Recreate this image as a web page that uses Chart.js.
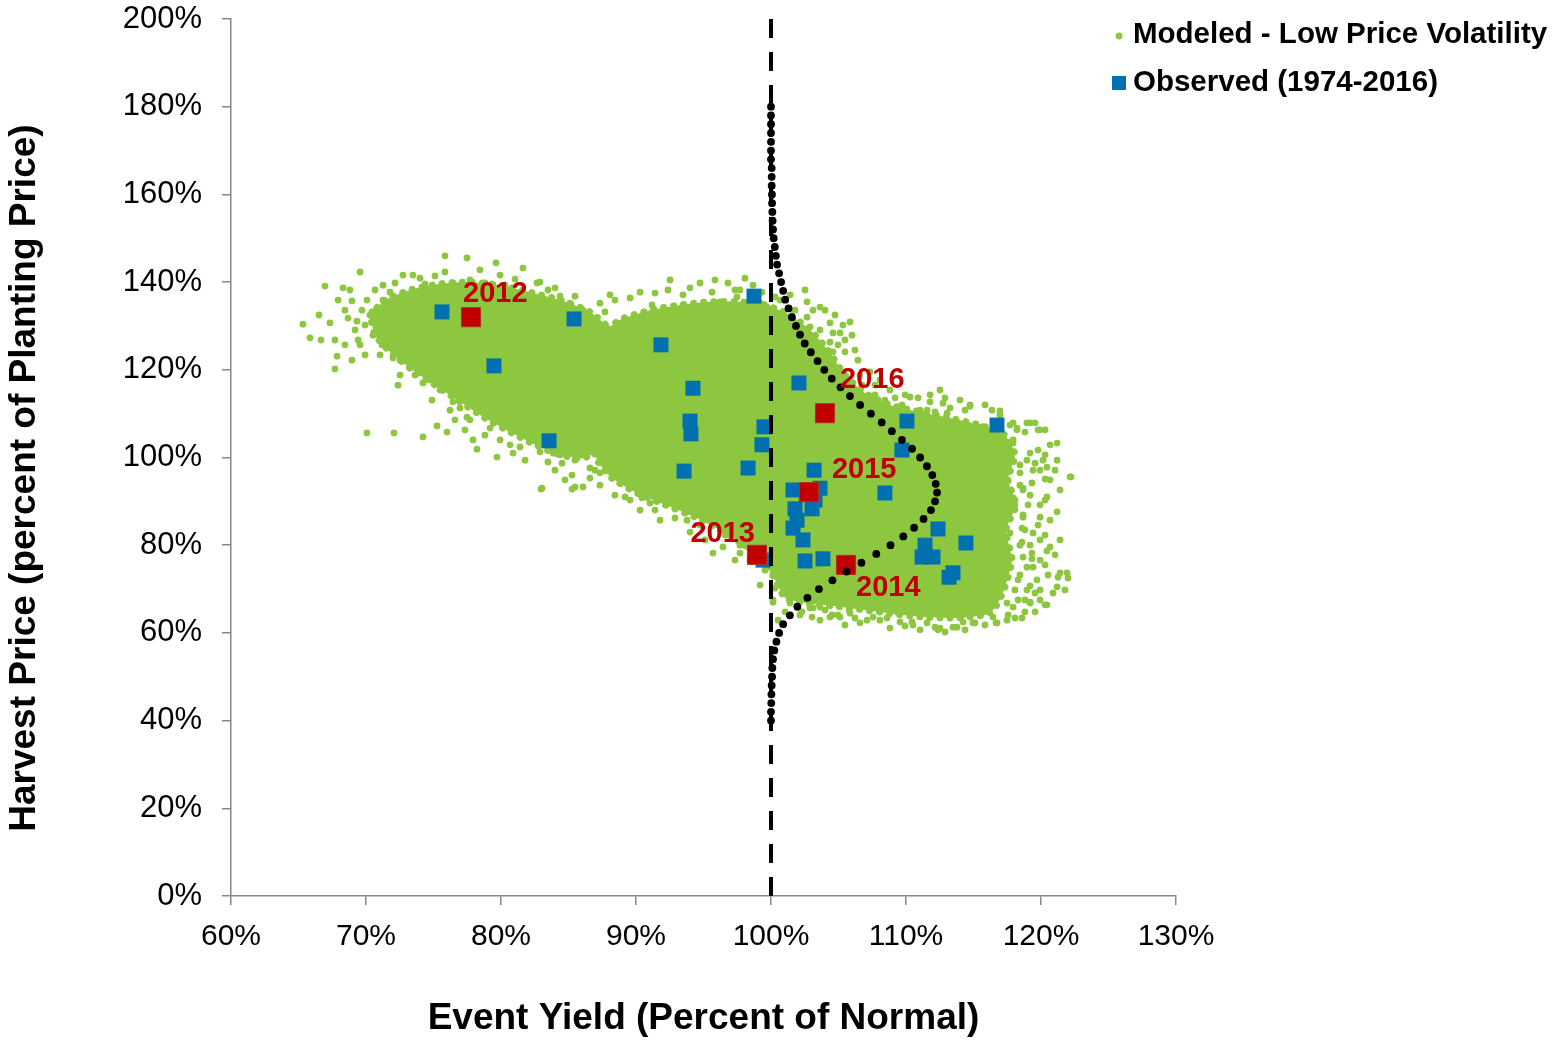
<!DOCTYPE html>
<html>
<head>
<meta charset="utf-8">
<script src="https://cdn.jsdelivr.net/npm/chart.js@4.4.1/dist/chart.umd.min.js"></script>
<style>
html,body{margin:0;padding:0;background:#ffffff;}
#wrap{width:1560px;height:1041px;position:relative;}
</style>
</head>
<body>
<div id="wrap"><canvas id="c" width="1560" height="1041"></canvas></div>
<script>
// ---------------- DATA ----------------
const xAxisRange = [60, 130];   // Event Yield, percent of normal
const yAxisRange = [0, 200];    // Harvest Price, percent of planting price
const xTickStep = 10;
const yTickStep = 20;

const seriesNames = ['Modeled - Low Price Volatility', 'Observed (1974-2016)'];

// dense core of the modeled cloud (outline of the solid area), left lobe
const modeledCoreLeft = [
  [70.30,132.5],[71.41,135.9],[73.26,138.2],[75.48,139.6],[77.70,140.0],[79.93,139.3],[82.15,137.7],
  [84.37,135.9],[86.59,133.2],[88.07,129.1],[88.44,122.2],[88.07,113.1],[87.33,104.0],[86.22,99.9],
  [84.37,100.6],[82.52,102.9],[80.67,105.8],[78.81,109.0],[76.96,112.7],[75.11,116.5],[73.26,120.4],
  [71.78,124.1],[70.67,127.9],[70.30,132.5]
];
// dense core of the modeled cloud, middle and right lobes
const modeledCoreMain = [
  [87.33,127.9],[88.81,131.4],[91.04,133.6],[93.26,134.8],[95.48,135.5],[97.70,135.5],[99.56,134.8],
  [101.41,132.5],[102.89,129.1],[104.22,124.5],[105.48,118.8],[106.96,114.7],[108.81,112.0],[111.04,110.4],
  [113.26,109.0],[115.48,107.4],[117.33,105.1],[118.07,100.6],[117.56,94.9],[118.15,89.2],[117.41,83.5],
  [117.85,76.6],[117.26,69.8],[116.59,65.7],[115.85,64.1],[113.63,63.4],[111.41,63.6],[109.19,64.3],
  [106.96,65.2],[104.74,66.1],[102.52,66.8],[101.04,68.0],[100.30,72.1],[99.33,77.3],[98.07,80.0],
  [96.22,83.5],[94.37,86.4],[92.15,89.2],[89.93,92.1],[88.22,95.3],[87.19,99.0],[86.59,104.0],
  [86.44,113.1],[86.74,122.2],[87.33,127.9]
];
// individual modeled outcomes around the dense core
const modeledPoints = [
  [75.85,146.0],[77.48,145.5],[79.63,144.4],[81.63,143.2],[82.67,139.8],[69.56,142.3],[66.96,139.1],
  [68.30,138.7],[68.96,135.7],[70.07,135.9],[71.26,139.3],[72.74,141.6],[73.48,141.6],[75.11,141.4],
  [76.44,139.8],[71.78,137.7],[74.37,139.6],[77.70,140.5],[78.81,139.8],[80.30,139.3],[81.04,140.7],
  [83.48,138.2],[84.37,136.8],[85.11,135.2],[86.07,133.6],[86.59,131.8],[65.33,130.4],[66.52,132.5],
  [67.33,130.7],[65.85,127.3],[66.67,126.8],[67.70,126.8],[67.85,123.1],[67.70,120.2],[69.33,131.1],
  [69.41,126.8],[69.93,123.4],[71.04,123.4],[72.0,122.7],[70.44,133.2],[71.04,130.7],[70.52,127.9],
  [71.56,128.4],[68.44,133.6],[71.78,125.7],[72.15,133.6],[71.26,135.9],[73.26,120.4],[74.0,119.3],
  [74.89,113.1],[74.22,117.0],[76.44,112.7],[72.07,105.6],[74.22,104.7],[75.26,107.2],[76.0,105.8],
  [77.48,109.2],[77.93,104.0],[78.22,101.9],[79.70,100.1],[80.89,101.0],[82.15,104.0],[84.89,103.3],
  [86.37,102.4],[75.48,115.4],[76.59,114.9],[78.44,112.0],[79.56,110.4],[80.30,108.6],[81.41,106.7],
  [82.89,105.4],[84.0,102.9],[76.96,111.3],[74.74,117.7],[75.85,116.5],[72.52,118.8],[84.37,100.6],
  [85.48,99.4],[86.59,101.3],[83.48,99.0],[85.26,96.0],[82.96,92.8],[85.48,93.3],[70.07,105.6],
  [68.81,138.2],[67.93,135.9],[68.67,131.8],[69.70,133.6],[69.19,129.1],[68.44,125.7],[69.56,125.7],
  [68.96,122.2],[70.67,138.2],[72.15,139.8],[74.0,140.9],[75.85,142.3],[78.44,142.8],[79.93,141.6],
  [82.89,140.0],[84.0,138.7],[85.48,136.8],[87.33,135.2],[69.93,130.2],[71.19,125.7],[72.52,122.2],
  [73.63,118.8],[72.37,116.5],[76.22,110.8],[77.70,108.6],[79.19,106.7],[77.33,106.3],[79.93,104.0],
  [81.41,102.4],[82.89,101.3],[81.78,99.4],[84.0,97.1],[84.74,94.9],[86.59,97.6],[80.67,102.9],
  [78.81,105.1],[76.59,108.6],
  [88.07,137.1],[89.56,136.4],[91.41,137.5],[91.19,134.8],[93.48,137.1],[94.74,139.8],[96.81,139.8],
  [98.67,139.3],[96.22,135.5],[97.48,136.6],[94.22,133.6],[95.26,132.0],[92.67,131.4],[91.56,129.1],
  [90.30,129.5],[89.04,130.7],[87.70,133.2],[86.81,131.4],[102.67,135.5],[103.11,133.6],[103.63,134.3],
  [102.67,132.0],[104.37,130.7],[105.33,130.2],[105.11,128.4],[104.59,128.4],[102.89,129.8],[99.70,134.3],
  [101.93,128.4],[99.33,130.7],[98.22,129.8],[96.74,130.7],[95.70,128.4],[94.0,127.5],[92.52,125.2],
  [90.89,124.5],[89.56,125.2],[88.30,126.8],[103.63,124.5],[104.59,124.1],[103.11,122.2],[104.15,120.6],
  [101.19,120.6],[91.78,126.8],[94.74,125.7],[97.70,126.8],[99.56,127.9],[93.26,127.9],[88.81,129.1],
  [90.67,132.5],[94.0,130.9],[95.85,133.2],[98.07,133.2],[101.04,125.7],[87.33,129.1],[86.59,127.9],
  [99.33,137.7],[100.30,136.6],[97.70,138.2],
  [88.44,135.9],[90.30,137.7],[92.37,138.2],[94.0,138.7],[95.63,137.7],[97.33,138.2],[99.19,135.2],
  [100.67,135.9],[101.78,133.6],[92.52,140.5],[95.85,140.5],[98.07,140.9],[101.41,137.1],[102.52,138.2],
  [104.0,133.6],[104.74,132.5],[103.63,129.1],[105.48,126.8],[104.37,126.3],[106.22,124.5],
  [105.85,130.9],[106.0,127.9],[104.96,125.7],[105.48,124.1],[106.44,122.2],[107.33,119.5],[108.07,117.7],
  [106.74,116.5],[108.81,115.4],[109.93,114.3],[110.89,113.6],[111.78,112.7],[112.89,113.6],[113.26,111.3],
  [112.15,110.4],[111.04,110.8],[109.70,112.0],[108.44,113.1],[107.70,114.3],[110.30,113.8],[111.56,110.8],
  [112.74,112.4],[113.04,110.1],[113.78,107.9],[114.74,112.0],[115.70,107.0],[116.37,110.8],[118.22,106.7],
  [118.96,107.9],[119.56,107.9],[119.93,106.3],[117.93,103.3],[119.19,101.0],[120.15,99.4],[121.19,99.4],
  [122.15,95.6],[120.67,94.9],[119.41,97.1],[118.67,92.6],[120.44,91.0],[121.19,87.6],[119.93,86.4],
  [118.67,86.4],[119.41,82.8],[120.67,79.6],[121.41,73.7],[122.0,72.5],[120.89,69.1],[119.93,69.8],
  [119.41,75.0],[118.67,77.3],[120.44,66.4],[119.19,66.8],[118.59,63.4],[117.48,62.9],[116.44,63.6],
  [114.96,62.3],[113.78,61.3],[112.52,61.1],[111.56,62.3],[110.52,61.8],[109.56,62.5],[108.59,63.4],
  [107.56,63.6],[106.59,62.3],[105.85,64.5],[105.11,63.6],[104.37,63.6],[103.63,65.9],[103.04,63.6],
  [102.67,67.5],[107.11,62.9],[109.93,61.6],[110.44,62.5],[112.15,61.3],[112.37,60.7],[113.48,61.3],
  [114.22,62.5],[115.11,62.3],[116.67,62.3],[109.33,64.8],[111.26,64.5],[104.52,64.1],[104.96,64.1],
  [104.0,65.2],[103.11,65.7],[102.30,64.8],[105.78,65.2],[100.15,67.0],[101.41,66.8],[100.89,69.3],
  [102.0,65.7],[102.89,65.7],
  [106.59,118.8],[107.70,116.5],[109.19,113.6],[111.78,114.3],[112.52,115.4],[114.0,113.1],[114.37,110.8],
  [115.85,112.0],[116.96,109.7],[117.70,107.4],[118.81,105.8],[120.30,106.3],[120.67,102.9],[120.30,100.6],
  [119.93,97.1],[121.04,97.1],[121.41,92.6],[120.30,90.3],[120.67,85.7],[119.78,84.6],[120.30,82.3],
  [121.41,81.2],[121.04,77.8],[119.93,76.6],[120.52,73.2],[121.78,69.8],[119.93,67.5],[119.56,64.8],
  [118.07,63.4],[115.85,61.8],[114.37,60.7],[112.89,60.2],[111.04,60.7],[108.81,61.1],[108.07,62.9],
  [106.22,63.4],[105.48,61.8],[103.63,62.9],[102.15,64.1],[101.04,64.8],[100.52,62.9],
  [114.74,111.7],[116.96,110.6],[117.93,107.9],[119.19,107.9],[119.78,106.3],[118.22,106.3],[121.19,103.3],
  [122.22,95.6],[120.30,95.1],[120.44,97.8],[119.78,101.7],[119.56,98.7],[119.33,94.2],[118.67,93.0],
  [117.93,90.8],[118.67,86.9],[118.59,80.7],[120.44,78.7],[119.33,78.2],[119.33,76.9],[118.96,75.0],
  [119.70,72.1],[121.26,72.7],[121.93,73.7],[121.19,70.5],[119.19,70.7],[119.56,69.1],[119.19,67.0],
  [120.30,66.4],[116.74,62.3],[117.93,65.9],[117.48,66.8],[118.30,72.1],[117.70,77.3],[117.70,82.8],
  [117.48,86.4],[117.19,88.7],[116.96,93.3],[115.48,91.0],[116.22,97.1],[117.48,97.8],[118.44,96.5],
  [116.74,100.1],[115.48,101.7],[117.70,101.7],[118.96,99.4],[115.63,107.0],[114.52,105.6],[117.93,104.0],
  [117.11,103.3],[116.22,104.7],[115.11,102.9],[116.59,102.4],[117.33,100.6],[118.44,93.7],[119.19,91.4],
  [119.93,89.2],[118.07,89.2],[116.59,88.0],[118.81,83.5],[119.93,81.2],[118.44,80.0],[120.30,75.5],
  [118.07,69.8],[118.81,67.5],
  [118.44,98.3],[119.04,89.2],[118.59,83.9],[119.19,80.0],[118.44,73.2],[118.96,69.8],[118.30,67.5],
  [118.81,64.8],[117.56,64.1],
  [83.85,101.0],[84.52,98.7],[85.26,92.8],[86.07,93.3],[83.04,93.0],[86.59,95.3],[86.96,97.1],
  [87.48,99.9],[88.07,97.1],[88.22,95.3],[88.81,94.2],[89.19,91.0],[89.56,93.3],[90.44,90.8],
  [91.04,89.6],[91.63,90.3],[92.37,89.6],[93.04,89.2],[93.78,87.6],[93.78,85.7],[94.74,87.3],
  [94.96,85.7],[95.70,86.9],[96.37,88.5],[95.70,78.2],[96.44,79.6],[97.70,78.2],[98.07,80.0],
  [100.15,73.7],[100.30,70.2],[100.15,67.5],[87.33,96.5],[88.44,97.8],[89.93,96.5],[91.04,93.7],
  [92.15,93.3],[93.04,91.9],[94.22,90.3],[95.26,89.6],[96.22,90.3],[96.96,88.0],[97.70,85.7],
  [98.44,84.2],[99.19,82.8],[98.67,79.6],[99.41,78.2],
  [89.56,90.3],[91.41,88.0],[92.89,86.2],[94.74,84.6],[96.59,82.3],[97.70,80.0],[98.44,76.6],
  [97.33,76.6],[99.56,74.3],[99.19,70.9],[95.11,81.2],[94.0,83.0],[91.78,85.7],[90.30,88.0],
  [88.44,91.4],[87.33,93.7]
];

// observed years (blue squares)
const observedPoints = [
  [75.63,133.2],[79.48,120.9],[83.56,103.8],[85.41,131.6],[91.85,125.7],[98.74,136.8],[94.22,115.8],
  [94.0,108.3],[94.07,105.4],[93.56,96.9],[98.30,97.6],[99.33,102.9],[99.48,107.0],[99.41,76.6],
  [102.07,117.0],[103.19,97.1],[101.63,92.6],[103.63,93.0],[101.78,88.3],[103.04,88.3],[101.63,83.9],
  [102.37,81.2],[102.52,76.4],[103.85,76.9],[108.44,91.9],[110.07,108.3],[109.70,101.7],[116.74,107.4],
  [112.37,83.7],[114.44,80.5],[111.41,80.0],[111.19,77.3],[112.0,77.3],[113.19,72.7],[113.48,73.7],
  [102.74,92.3],[101.93,85.7],[103.26,90.3]
];

// highlighted recent years (red squares)
const highlightYears = ['2012', '2013', '2014', '2015', '2016'];
const highlightYield = [77.78, 98.96, 105.56, 102.81, 104.0];
const highlightPrice = [132.0, 77.8, 75.5, 92.1, 110.1];

// dotted distribution curve of harvest price (plotted sideways from 100% yield)
const curvePriceLevels = [180,178,176,174,172,170,168,166,164,162,160,158,156,154,152,150,148,146,144,142,
  140,138,136,134,132,130,128,126,124,122,120,118,116,114,112,110,108,106,104,102,100,98,96,94,92,90,88,86,
  84,82,80,78,76,74,72,70,68,66,64,62,60,58,56,54,52,50,48,46,44,42,40];
const curveYieldValues = [100.0,100.0,100.0,100.0,100.0,100.0,100.0,100.05,100.05,100.05,100.07,100.08,100.1,
  100.12,100.15,100.2,100.28,100.36,100.45,100.6,100.75,100.9,101.05,101.3,101.55,101.85,102.15,102.5,102.95,
  103.45,103.95,104.5,105.15,105.85,106.6,107.4,108.2,108.95,109.7,110.45,111.05,111.55,111.95,112.2,112.3,
  112.15,111.85,111.3,110.6,109.8,108.85,107.8,106.7,105.6,104.55,103.55,102.7,101.95,101.4,100.9,100.6,100.4,
  100.25,100.15,100.1,100.08,100.05,100.03,100.02,100.0,100.0];

// vertical reference line at normal yield
const normalYield = 100;

// ---------------- CHART ----------------
const GREEN = '#8DC63F';
const BLUE = '#0070B0';
const RED = '#C00000';
const FONT = "'Liberation Sans', Arial, Helvetica, sans-serif";

const toXY = arr => arr.map(p => ({x: p[0], y: p[1]}));

const yearLabelOffsets = {
  '2012': {dx: -8, dy: -23, align: 'left'},
  '2013': {dx: -2, dy: -21, align: 'right'},
  '2014': {dx: 10, dy: 23, align: 'left'},
  '2015': {dx: 23, dy: -22, align: 'left'},
  '2016': {dx: 15, dy: -33, align: 'left'}
};

const yearLabelPlugin = {
  id: 'yearLabels',
  afterDatasetsDraw(chart) {
    const idx = chart.data.datasets.findIndex(d => d.id === 'highlight');
    const meta = chart.getDatasetMeta(idx);
    const ctx = chart.ctx;
    ctx.save();
    ctx.font = 'bold 29px ' + FONT;
    ctx.fillStyle = RED;
    ctx.textBaseline = 'middle';
    meta.data.forEach((el, i) => {
      const yr = highlightYears[i];
      const o = yearLabelOffsets[yr];
      ctx.textAlign = o.align;
      ctx.fillText(yr, el.x + o.dx, el.y + o.dy);
    });
    ctx.restore();
  }
};

const legendPlugin = {
  id: 'cornerLegend',
  afterDraw(chart) {
    const ctx = chart.ctx;
    ctx.save();
    ctx.font = 'bold 29.5px ' + FONT;
    ctx.textBaseline = 'middle';
    ctx.textAlign = 'left';
    ctx.beginPath();
    ctx.fillStyle = GREEN;
    ctx.arc(1119, 36, 3.5, 0, Math.PI * 2);
    ctx.fill();
    ctx.fillStyle = '#000';
    ctx.fillText(seriesNames[0], 1133, 35);
    ctx.fillStyle = BLUE;
    ctx.fillRect(1112, 76, 14, 14);
    ctx.fillStyle = '#000';
    ctx.fillText(seriesNames[1], 1133, 83);
    ctx.restore();
  }
};

const coreStyle = {
  showLine: true, fill: 'shape', backgroundColor: GREEN, borderColor: GREEN, borderWidth: 7,
  borderDash: [0.1, 10], borderCapStyle: 'round', borderJoinStyle: 'round', pointRadius: 0, tension: 0.2
};

const datasets = [
  {
    id: 'refline', label: 'Normal yield', order: 0,
    data: [{x: normalYield, y: yAxisRange[1]}, {x: normalYield, y: yAxisRange[0]}],
    borderColor: '#000', borderWidth: 4, borderDash: [19, 14], pointRadius: 0, showLine: true, fill: false
  },
  {
    id: 'curve', label: 'Price distribution', order: 0,
    data: curvePriceLevels.map((p, i) => ({x: curveYieldValues[i], y: p})),
    showLine: false, pointRadius: 3.9, pointBackgroundColor: '#000', pointBorderWidth: 0, fill: false
  },
  {
    id: 'highlight', label: 'Recent years', order: 1,
    data: highlightYears.map((y, i) => ({x: highlightYield[i], y: highlightPrice[i]})),
    showLine: false, pointStyle: 'rect', pointRadius: 13.5, pointBackgroundColor: RED,
    pointBorderColor: '#B03020', pointBorderWidth: 1, fill: false
  },
  {
    id: 'observed', label: seriesNames[1], order: 2,
    data: toXY(observedPoints),
    showLine: false, pointStyle: 'rect', pointRadius: 10.6, pointBackgroundColor: BLUE,
    pointBorderWidth: 0, fill: false
  },
  {
    id: 'modeled', label: seriesNames[0], order: 3,
    data: toXY(modeledPoints),
    showLine: false, pointRadius: 3.4, pointBackgroundColor: GREEN, pointBorderWidth: 0, fill: false
  },
  Object.assign({id: 'coreLeft', label: 'core', order: 4, data: toXY(modeledCoreLeft)}, coreStyle),
  Object.assign({id: 'coreMain', label: 'core', order: 4, data: toXY(modeledCoreMain)}, coreStyle)
];

new Chart(document.getElementById('c'), {
  type: 'line',
  data: {datasets},
  plugins: [yearLabelPlugin, legendPlugin],
  options: {
    responsive: false,
    animation: false,
    devicePixelRatio: 1,
    events: [],
    layout: {padding: {left: 0, top: 19, right: 384, bottom: 0}},
    plugins: {legend: {display: false}, tooltip: {enabled: false}},
    scales: {
      x: {
        type: 'linear', min: xAxisRange[0], max: xAxisRange[1],
        afterFit: s => { s.height = 145; s.paddingLeft = 0; s.paddingRight = 0; },
        ticks: {stepSize: xTickStep, callback: v => v + '%', color: '#000',
                font: {family: FONT, size: 30}, padding: 14, maxRotation: 0},
        grid: {drawOnChartArea: false, drawTicks: true, tickLength: 9, color: '#868686', lineWidth: 1.5},
        border: {display: true, color: '#868686', width: 1.5},
        title: {display: true, text: 'Event Yield (Percent of Normal)', color: '#000',
                font: {family: FONT, size: 37, weight: 'bold'}, padding: {top: 0, bottom: 0}}
      },
      y: {
        type: 'linear', min: yAxisRange[0], max: yAxisRange[1],
        afterFit: s => { s.width = 231; s.paddingTop = 0; s.paddingBottom = 0; },
        ticks: {stepSize: yTickStep, callback: v => v + '%', color: '#000',
                font: {family: FONT, size: 31}, padding: 20},
        grid: {drawOnChartArea: false, drawTicks: true, tickLength: 9, color: '#868686', lineWidth: 1.5},
        border: {display: true, color: '#868686', width: 1.5},
        title: {display: true, text: 'Harvest Price (percent of Planting Price)    ', color: '#000',
                font: {family: FONT, size: 37, weight: 'bold'}, padding: {top: 3, bottom: 0}}
      }
    }
  }
});
</script>
</body>
</html>
